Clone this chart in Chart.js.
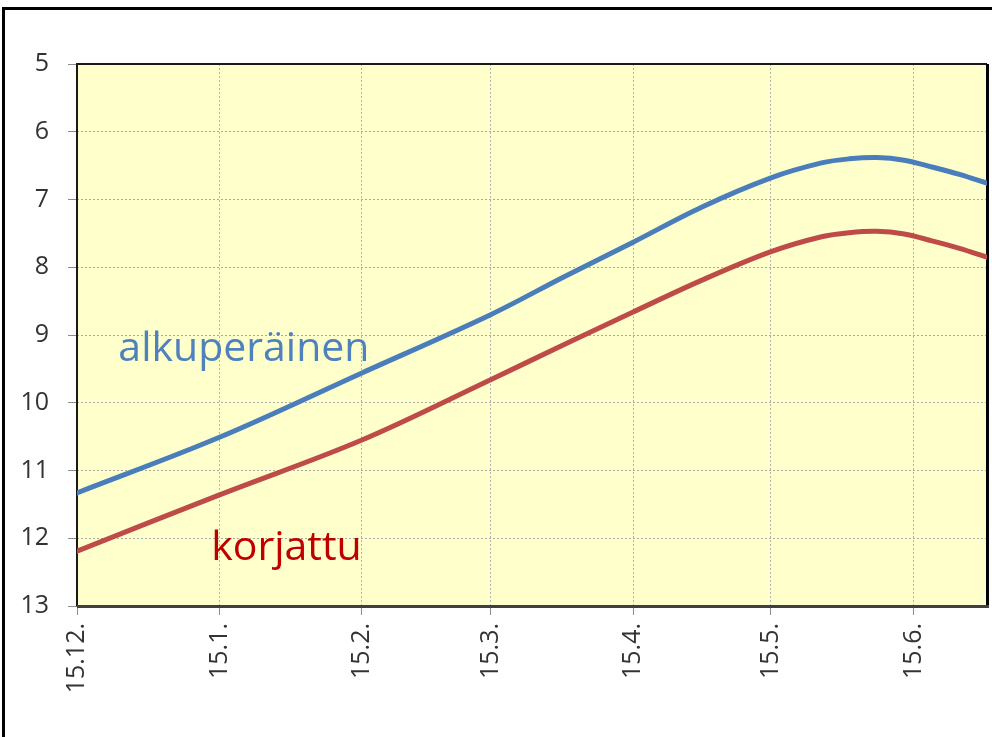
<!DOCTYPE html>
<html>
<head>
<meta charset="utf-8">
<script src="https://cdn.jsdelivr.net/npm/chart.js@4.4.1/dist/chart.umd.min.js"></script>
<style>
  html, body { margin: 0; padding: 0; background: #ffffff; }
  #wrap { position: relative; width: 992px; height: 737px; }
</style>
</head>
<body>
<div id="wrap"><canvas id="c" width="992" height="737"></canvas></div>
<script>
// Days since 15.12.
const days = [0, 31, 62, 90, 106, 121, 136, 151, 162, 168, 174, 180, 186, 192, 198];
const alkuperainen = [11.33, 10.51, 9.56, 8.70, 8.14, 7.63, 7.11, 6.68, 6.46, 6.40, 6.38, 6.42, 6.52, 6.63, 6.76];
const korjattu = [12.19, 11.36, 10.55, 9.66, 9.14, 8.66, 8.19, 7.77, 7.55, 7.49, 7.47, 7.51, 7.61, 7.72, 7.85];
const tickDays = [0, 31, 62, 90, 121, 151, 182];
const tickLabels = ["15.12.", "15.1.", "15.2.", "15.3.", "15.4.", "15.5.", "15.6."];
const seriesNames = ["alkuperäinen", "korjattu"];

const FONT = "'Open Sans', 'Noto Sans', sans-serif";

const pts = (ys) => days.map((d, i) => ({ x: d, y: ys[i] }));

const framePlugin = {
  id: 'frame',
  beforeDraw(chart) {
    const { ctx, chartArea: a } = chart;
    ctx.save();
    ctx.fillStyle = '#ffffcc';
    ctx.fillRect(a.left, a.top, a.right - a.left, a.bottom - a.top);
    ctx.strokeStyle = '#000';
    ctx.lineWidth = 3;
    ctx.strokeRect(3.5, 8.5, 1100, 900);
    ctx.restore();
  },
  beforeDatasetsDraw(chart) {
    const { ctx, chartArea: a } = chart;
    ctx.save();
    ctx.strokeStyle = '#1a1a1a';
    ctx.lineWidth = 2;
    ctx.beginPath();
    ctx.moveTo(a.left, a.bottom); ctx.lineTo(a.left, a.top); ctx.lineTo(a.right, a.top);
    ctx.stroke();
    ctx.strokeStyle = '#000';
    ctx.lineWidth = 3;
    ctx.beginPath();
    ctx.moveTo(a.right + 0.5, a.top); ctx.lineTo(a.right + 0.5, a.bottom + 1);
    ctx.stroke();
    ctx.strokeStyle = '#404040';
    ctx.lineWidth = 3;
    ctx.beginPath();
    ctx.moveTo(a.left, a.bottom + 0.5); ctx.lineTo(a.right + 2, a.bottom + 0.5);
    ctx.stroke();
    ctx.restore();
  },
  afterDatasetsDraw(chart, args, opts) {
    const { ctx, scales: { x, y } } = chart;
    ctx.save();
    ctx.font = '41px ' + FONT;
    ctx.textBaseline = 'alphabetic';
    ctx.textAlign = 'left';
    opts.labels.forEach(l => {
      ctx.fillStyle = l.color;
      ctx.fillText(l.text, x.getPixelForValue(l.x), y.getPixelForValue(l.y));
    });
    ctx.restore();
  }
};

new Chart(document.getElementById('c'), {
  type: 'line',
  data: {
    datasets: [
      { label: seriesNames[0], data: pts(alkuperainen), borderColor: '#4a7ebb', borderWidth: 5,
        pointRadius: 0, tension: 0.35, fill: false, borderCapStyle: 'round' },
      { label: seriesNames[1], data: pts(korjattu), borderColor: '#be4b48', borderWidth: 5,
        pointRadius: 0, tension: 0.35, fill: false, borderCapStyle: 'round' }
    ]
  },
  options: {
    responsive: false,
    animation: false,
    events: [],
    layout: { autoPadding: false, padding: { top: 64, right: 5, left: 0, bottom: 0 } },
    plugins: {
      legend: { display: false },
      tooltip: { enabled: false },
      frame: {
        labels: [
          { text: seriesNames[0], color: '#4f81bd', x: 9, y: 9.38 },
          { text: seriesNames[1], color: '#c00000', x: 29.2, y: 12.32 }
        ]
      }
    },
    scales: {
      x: {
        type: 'linear', min: 0, max: 198,
        afterFit(s) { s.height = 131; },
        afterBuildTicks(s) { s.ticks = tickDays.map(v => ({ value: v })); },
        grid: { color: '#b4b4b4', lineWidth: 1, drawTicks: true, tickLength: 9, tickColor: '#8c8c8c', tickBorderDash: [] },
        border: { display: false, dash: [2, 2] },
        ticks: {
          autoSkip: false, maxRotation: 90, minRotation: 90, padding: 8,
          color: '#333333', font: { family: FONT, size: 25 },
          callback: (v) => { const i = tickDays.indexOf(v); return i >= 0 ? tickLabels[i] : ''; }
        }
      },
      y: {
        type: 'linear', min: 5, max: 13, reverse: true,
        afterFit(s) { s.width = 77; },
        grid: { color: '#a8a8a8', lineWidth: 1, drawTicks: true, tickLength: 9, tickColor: '#8c8c8c', tickBorderDash: [] },
        border: { display: false, dash: [2, 2] },
        ticks: { stepSize: 1, padding: 19, color: '#333333', font: { family: FONT, size: 25 } }
      }
    }
  },
  plugins: [framePlugin]
});
</script>
</body>
</html>
